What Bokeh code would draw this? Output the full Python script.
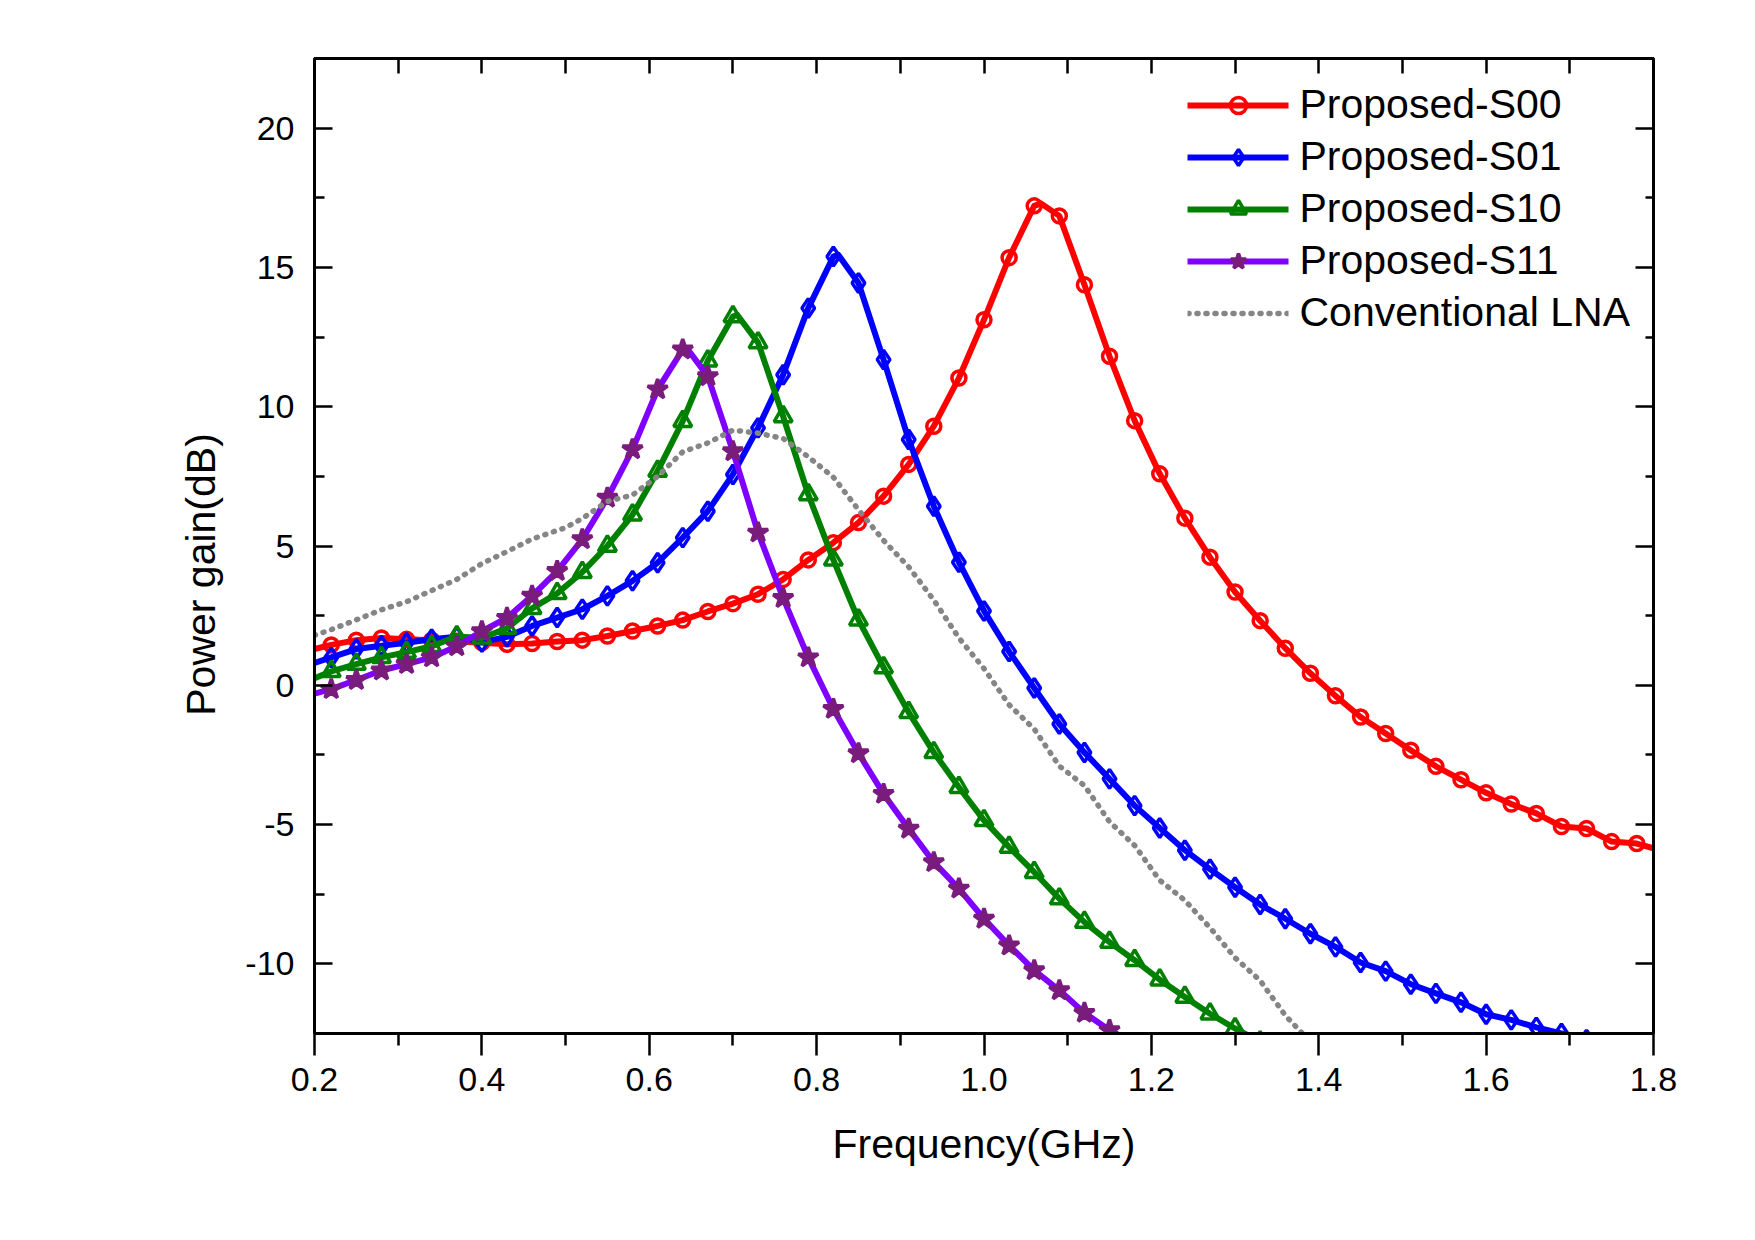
from bokeh.plotting import figure
from bokeh.models import (LinearAxis, FixedTicker, Range1d, Legend, LegendItem,
                          PrintfTickFormatter)
from bokeh.embed import file_html
from bokeh.resources import INLINE

# ---------------- data ----------------
FREQ = [0.22, 0.25, 0.28, 0.31, 0.34, 0.37, 0.40, 0.43, 0.46, 0.49,
        0.52, 0.55, 0.58, 0.61, 0.64, 0.67, 0.70, 0.73, 0.76, 0.79,
        0.82, 0.85, 0.88, 0.91, 0.94, 0.97, 1.00, 1.03, 1.06, 1.09,
        1.12, 1.15, 1.18, 1.21, 1.24, 1.27, 1.30, 1.33, 1.36, 1.39,
        1.42, 1.45, 1.48, 1.51, 1.54, 1.57, 1.60, 1.63, 1.66, 1.69,
        1.72, 1.75, 1.78]

S00_GAIN = [1.45, 1.62, 1.70, 1.65, 1.62, 1.58, 1.53, 1.47, 1.50, 1.57,
            1.62, 1.77, 1.95, 2.13, 2.34, 2.65, 2.93, 3.27, 3.80, 4.50,
            5.12, 5.84, 6.79, 7.93, 9.30, 11.03, 13.12, 15.35, 17.21, 16.85,
            14.38, 11.81, 9.50, 7.59, 6.00, 4.60, 3.35, 2.32, 1.33, 0.43,
            -0.38, -1.14, -1.73, -2.33, -2.91, -3.39, -3.86, -4.26, -4.60, -5.07,
            -5.14, -5.61, -5.68]
S00_EXTRA = {"start": (0.20, 1.30), "peak": (1.068, 17.30), "end": (1.80, -5.85)}

S01_GAIN = [1.00, 1.30, 1.42, 1.53, 1.65, 1.74, 1.55, 1.74, 2.13, 2.43,
            2.73, 3.21, 3.75, 4.40, 5.30, 6.25, 7.57, 9.24, 11.15, 13.54,
            15.39, 14.44, 11.69, 8.82, 6.43, 4.42, 2.67, 1.21, -0.10, -1.39,
            -2.41, -3.36, -4.32, -5.12, -5.92, -6.60, -7.25, -7.87, -8.38, -8.92,
            -9.39, -9.95, -10.26, -10.73, -11.06, -11.38, -11.81, -12.01, -12.28, -12.50,
            -12.72]
S01_EXTRA = {"start": (0.20, 0.80), "peak": (0.826, 15.45)}

S10_GAIN = [0.50, 0.76, 1.00, 1.19, 1.40, 1.75, 1.70, 2.05, 2.76, 3.30,
            4.06, 5.00, 6.12, 7.69, 9.48, 11.65, 13.24, 12.30, 9.65, 6.85,
            4.50, 2.35, 0.64, -0.97, -2.41, -3.66, -4.85, -5.81, -6.71, -7.66,
            -8.50, -9.22, -9.87, -10.57, -11.19, -11.79, -12.32, -12.80]
S10_EXTRA = {"start": (0.20, 0.25), "peak": (0.705, 13.30)}

S11_GAIN = [-0.14, 0.19, 0.53, 0.76, 1.00, 1.40, 1.94, 2.42, 3.21, 4.10,
            5.24, 6.73, 8.47, 10.62, 12.05, 11.09, 8.40, 5.48, 3.13, 1.00,
            -0.85, -2.44, -3.90, -5.15, -6.35, -7.30, -8.38, -9.34, -10.23, -10.95,
            -11.76, -12.38]
S11_EXTRA = {"start": (0.20, -0.30), "peak": (0.645, 12.10), "end": (1.17, -12.70)}

CONV_FREQ = [0.20, 0.22, 0.25, 0.28, 0.31, 0.34, 0.37, 0.40, 0.43, 0.46,
             0.50, 0.52, 0.55, 0.58, 0.61, 0.64, 0.67, 0.70, 0.73, 0.76,
             0.79, 0.82, 0.85, 0.88, 0.91, 0.94, 0.97, 1.00, 1.03, 1.06,
             1.09, 1.12, 1.15, 1.18, 1.21, 1.24, 1.27, 1.30, 1.33, 1.36, 1.39]
CONV_GAIN = [1.80, 2.00, 2.35, 2.71, 3.00, 3.40, 3.80, 4.37, 4.80, 5.25,
             5.66, 5.99, 6.60, 6.83, 7.50, 8.38, 8.70, 9.16, 9.05, 8.86,
             8.20, 7.47, 6.30, 5.20, 4.25, 3.06, 1.70, 0.60, -0.70, -1.57,
             -2.90, -3.60, -4.90, -5.75, -7.00, -7.72, -8.70, -9.78, -10.60, -11.85, -12.80]

X_TICKS = [0.2, 0.4, 0.6, 0.8, 1.0, 1.2, 1.4, 1.6, 1.8]
X_MINOR = [0.3, 0.5, 0.7, 0.9, 1.1, 1.3, 1.5, 1.7]
Y_TICKS = [-10, -5, 0, 5, 10, 15, 20]
Y_MINOR = [-12.5, -7.5, -2.5, 2.5, 7.5, 12.5, 17.5, 22.5]

LABELS = ["Proposed-S00", "Proposed-S01", "Proposed-S10", "Proposed-S11", "Conventional LNA"]
X_TITLE = "Frequency(GHz)"
Y_TITLE = "Power gain(dB)"

FONT = "Liberation Sans"

# ---------------- figure ----------------
p = figure(width=1740, height=1225, output_backend="svg", toolbar_location=None,
           x_range=Range1d(0.2, 1.8), y_range=Range1d(-12.5, 22.5),
           min_border_left=314, min_border_right=87, min_border_top=58, min_border_bottom=192)
p.grid.visible = False
p.outline_line_color = "black"
p.outline_line_width = 3
p.background_fill_color = "white"
p.border_fill_color = "white"


def style_axis(ax, ticks, minor, fmt, show_labels, tin, tout, mtin, mtout):
    ax.ticker = FixedTicker(ticks=ticks, minor_ticks=minor)
    ax.formatter = PrintfTickFormatter(format=fmt)
    ax.axis_line_color = "black"
    ax.axis_line_width = 3
    ax.major_tick_line_width = 2.5
    ax.minor_tick_line_width = 2.5
    ax.major_tick_in = tin
    ax.major_tick_out = tout
    ax.minor_tick_in = mtin
    ax.minor_tick_out = mtout
    ax.major_label_text_font = FONT
    ax.major_label_text_font_size = "34px"
    ax.major_label_text_color = "black" if show_labels else None
    ax.axis_label_text_font = FONT
    ax.axis_label_text_font_style = "normal"
    ax.axis_label_text_font_size = "41px"
    ax.axis_label_text_color = "black"


xb = p.xaxis[0]
style_axis(xb, X_TICKS, X_MINOR, "%.1f", True, 0, 22, 0, 12)
xb.major_label_standoff = 12
xb.axis_label = X_TITLE
xb.axis_label_standoff = 27

yl = p.yaxis[0]
style_axis(yl, Y_TICKS, Y_MINOR, "%d", True, 18, 0, 10, 0)
yl.major_label_standoff = 20
# trailing no-break spaces move the centred title slightly below the frame centre
yl.axis_label = Y_TITLE + "\u00a0" * 5
yl.axis_label_standoff = 18

xt = LinearAxis()
style_axis(xt, X_TICKS, X_MINOR, "%.1f", False, 15, 0, 15, 0)
p.add_layout(xt, "above")
yr = LinearAxis()
style_axis(yr, Y_TICKS, Y_MINOR, "%d", False, 18, 0, 8, 0)
p.add_layout(yr, "right")


def line_points(gains, extra):
    pts = list(zip(FREQ[:len(gains)], gains))
    for k in ("start", "peak", "end"):
        if k in extra:
            pts.append(extra[k])
    pts.sort(key=lambda t: t[0])
    return [a for a, b in pts], [b for a, b in pts]


# (gains, extras, line colour, marker, size, marker colour, fill alpha)
series = [
    (S00_GAIN, S00_EXTRA, "#FF0000", "circle", 14, "#FF0000", 0.0),
    (S01_GAIN, S01_EXTRA, "#0000FF", "diamond", 19, "#0000FF", 0.0),
    (S10_GAIN, S10_EXTRA, "#008000", "triangle", 18, "#008000", 0.0),
    (S11_GAIN, S11_EXTRA, "#8000FF", "star", 21, "#7A1C7C", 1.0),
]

items = []
for (gains, extra, col, mk, sz, mcol, falpha), lab in zip(series, LABELS):
    lx, ly = line_points(gains, extra)
    lr = p.line(lx, ly, line_color=col, line_width=6, line_join="round", line_cap="round")
    sr = p.scatter(FREQ[:len(gains)], gains, marker=mk, size=sz, line_color=mcol,
                   line_width=3.5, fill_color=mcol, fill_alpha=falpha)
    items.append(LegendItem(label=lab, renderers=[lr, sr]))

cr = p.line(CONV_FREQ, CONV_GAIN, line_color="#858585", line_width=5.5, line_dash="1 8",
            line_cap="round")
items.append(LegendItem(label=LABELS[4], renderers=[cr]))

legend = Legend(items=items, location="top_right")
legend.background_fill_alpha = 0
legend.border_line_alpha = 0
legend.label_text_font = FONT
legend.label_text_font_size = "41px"
legend.label_text_color = "black"
legend.glyph_width = 101
legend.glyph_height = 40
legend.label_height = 40
legend.spacing = 5
legend.label_standoff = 11
legend.padding = 0
legend.margin = 23
p.add_layout(legend)

open("out.html", "w").write(file_html(p, INLINE))
